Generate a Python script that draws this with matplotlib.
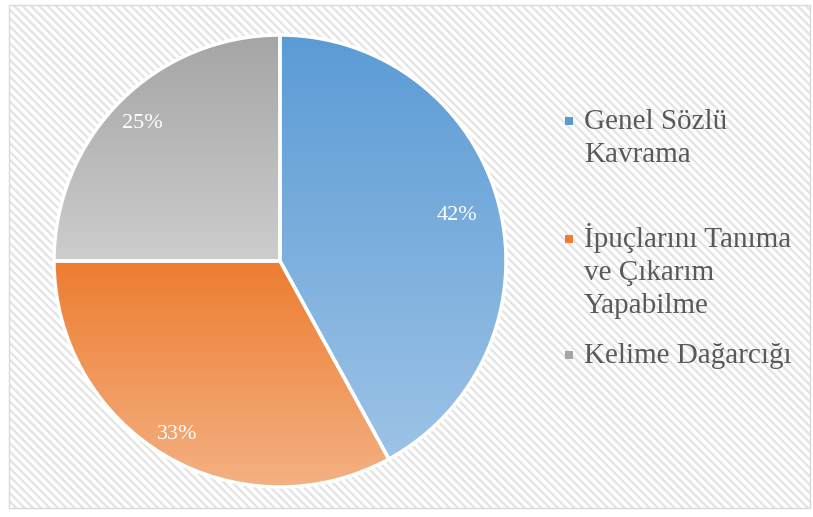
import numpy as np
import matplotlib
matplotlib.use("Agg")
import matplotlib.pyplot as plt
from matplotlib.colors import LinearSegmentedColormap
from matplotlib.patches import Rectangle

# Veriler
kategoriler = ["Genel Sözlü\nKavrama", "İpuçlarını Tanıma\nve Çıkarım\nYapabilme", "Kelime Dağarcığı"]
yuzdeler = [42, 33, 25]
renk_ust = ["#5B9BD5", "#ED7D31", "#A5A5A5"]
renk_alt = ["#9DC3E6", "#F4B183", "#CDCDCD"]
etiket_uzaklik = [0.81, 0.89, 0.86]

plt.rcParams["font.family"] = ["Liberation Serif", "DejaVu Serif"]
plt.rcParams["hatch.linewidth"] = 1.6

W, H = 813, 517
fig = plt.figure(figsize=(W / 100, H / 100), dpi=100)
fig.patch.set_facecolor("white")

# Taralı arka plan
fig.patches.append(Rectangle((9 / W, 1 - 508 / H), 801 / W, 503 / H, transform=fig.transFigure,
                             facecolor="white", edgecolor="#E3E3E3", hatch="\\\\\\\\", linewidth=0, zorder=-2))
fig.patches.append(Rectangle((9 / W, 1 - 508 / H), 801 / W, 503 / H, transform=fig.transFigure,
                             facecolor="none", edgecolor="#D9D9D9", linewidth=1.0, zorder=-1))

cx, cy, R = 280, 261, 226
ax = fig.add_axes([(cx - R) / W, (H - cy - R) / H, 2 * R / W, 2 * R / H])
ax.set_zorder(1)
ax.axis("off")

wedges, _, pct = ax.pie(yuzdeler, startangle=90, counterclock=False, radius=1,
                        autopct="%1.0f%%", pctdistance=0.85,
                        wedgeprops=dict(edgecolor="white", linewidth=2.5),
                        textprops=dict(color="white", fontsize=16))

# Her dilime dikey renk geçişi
for w, ust, alt in zip(wedges, renk_ust, renk_alt):
    t = np.radians(np.linspace(w.theta1, w.theta2, 200))
    xs = np.concatenate([[0], np.cos(t)])
    ys = np.concatenate([[0], np.sin(t)])
    cmap = LinearSegmentedColormap.from_list("g", [alt, ust])
    grad = np.linspace(0, 1, 256).reshape(-1, 1)
    im = ax.imshow(grad, extent=[xs.min(), xs.max(), ys.min(), ys.max()], origin="lower",
                   cmap=cmap, aspect="auto", zorder=1)
    im.set_clip_path(w)
    w.set_facecolor("none")
    w.set_zorder(2)

# Yüzde etiketlerinin konumu
for w, p, d in zip(wedges, pct, etiket_uzaklik):
    orta = np.radians((w.theta1 + w.theta2) / 2)
    p.set_position((d * np.cos(orta), d * np.sin(orta)))
    p.set_zorder(3)
ax.set_xlim(-1, 1)
ax.set_ylim(-1, 1)

# Lejant
lejant_y = [129, 247, 363]
satir = 33
for etiket, y, ust in zip(kategoriler, lejant_y, renk_ust):
    for i, parca in enumerate(etiket.split("\n")):
        fig.text(584 / W, 1 - (y + i * satir) / H, parca, fontsize=21, color="#595959",
                 va="baseline", ha="left")
    fig.patches.append(Rectangle((565 / W, 1 - (y - 4) / H), 8 / W, 8 / H, transform=fig.transFigure,
                                 facecolor=ust, edgecolor="none"))

fig.savefig("out.png", dpi=100)
